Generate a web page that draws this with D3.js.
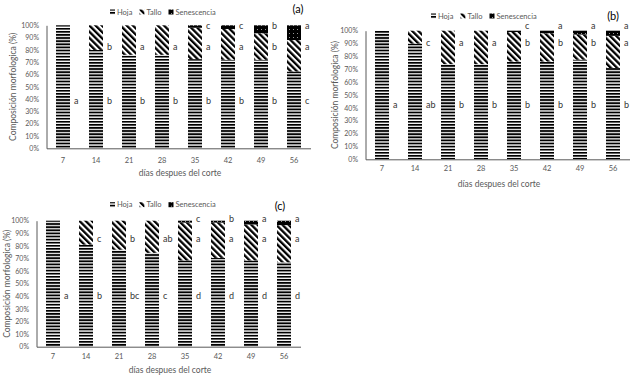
<!DOCTYPE html>
<html>
<head>
<meta charset="utf-8">
<script src="https://cdn.jsdelivr.net/npm/d3@7"></script>
<style>
body { margin: 0; background: #fff; }
svg { display: block; font-family: Lato, "Liberation Sans", sans-serif; }
</style>
</head>
<body>
<svg id="chart" width="634" height="375"></svg>
<script>
const dias = ["7", "14", "21", "28", "35", "42", "49", "56"];
const ticksY = [0, 0.1, 0.2, 0.3, 0.4, 0.5, 0.6, 0.7, 0.8, 0.9, 1];
const series = ["Hoja", "Tallo", "Senescencia"];

// panel (a)
const hojaA = [100, 80, 76, 76, 72.5, 72, 72, 62.5];
const talloA = [0, 20, 24, 24, 25.5, 25, 21.5, 25.5];
const senA = [0, 0, 0, 0, 2, 3, 6.5, 12];
const letrasHojaA = ["a", "b", "b", "b", "b", "b", "b", "c"];
const letrasTalloA = ["", "b", "a", "a", "a", "a", "b", "a"];
const letrasSenA = ["", "", "", "", "c", "c", "b", "a"];

// panel (b)
const hojaB = [100, 90, 74, 74, 76, 76, 77.5, 71];
const talloB = [0, 10, 26, 26, 23, 22, 19.5, 25];
const senB = [0, 0, 0, 0, 1, 2, 3, 4];
const letrasHojaB = ["a", "ab", "b", "b", "b", "b", "b", "b"];
const letrasTalloB = ["", "c", "a", "a", "b", "b", "b", "a"];
const letrasSenB = ["", "", "", "", "c", "a", "a", "a"];

// panel (c)
const hojaC = [100, 81, 77, 74.5, 68.5, 70.5, 68.5, 67];
const talloC = [0, 19, 23, 25.5, 30, 28, 28.5, 29.5];
const senC = [0, 0, 0, 0, 1.5, 1.5, 3, 3.5];
const letrasHojaC = ["a", "b", "bc", "c", "d", "d", "d", "d"];
const letrasTalloC = ["", "c", "b", "ab", "a", "a", "a", "a"];
const letrasSenC = ["", "", "", "", "c", "b", "a", "a"];

// layout of each panel (pixels)
const panels = [
    { id: "(a)", hoja: hojaA, tallo: talloA, sen: senA, letras: [letrasHojaA, letrasTalloA, letrasSenA],
      left: 46.5, top: 25.3, width: 264, height: 123, labelLevels: [0.386, 0.826, 1.0],
      xLabelY: 160, xTitleY: 173, yTitleX: 13, legendX: 110, legendY: 12, tagX: 298, tagY: 8 },
    { id: "(b)", hoja: hojaB, tallo: talloB, sen: senB, letras: [letrasHojaB, letrasTalloB, letrasSenB],
      left: 365.5, top: 30.7, width: 264, height: 128.6, labelLevels: [0.43, 0.91, 1.04],
      xLabelY: 168.3, xTitleY: 183.5, yTitleX: 335, legendX: 431, legendY: 16, tagX: 613, tagY: 15 },
    { id: "(c)", hoja: hojaC, tallo: talloC, sen: senC, letras: [letrasHojaC, letrasTalloC, letrasSenC],
      left: 36.5, top: 220.7, width: 264, height: 126, labelLevels: [0.41, 0.86, 1.02],
      xLabelY: 356.7, xTitleY: 370, yTitleX: 7, legendX: 110, legendY: 204.7, tagX: 280, tagY: 205 }
];

const svg = d3.select("#chart");
const defs = svg.append("defs");

// Hoja: horizontal stripes
const pHoja = defs.append("pattern").attr("id", "pat-hoja")
    .attr("patternUnits", "userSpaceOnUse").attr("width", 4).attr("height", 3.1);
pHoja.append("rect").attr("width", 4).attr("height", 3.1).attr("fill", "#fff");
pHoja.append("rect").attr("width", 4).attr("height", 1.8).attr("fill", "#000");

// Tallo: wide downward diagonal
const pTallo = defs.append("pattern").attr("id", "pat-tallo")
    .attr("patternUnits", "userSpaceOnUse").attr("width", 4.4).attr("height", 4.4)
    .attr("patternTransform", "rotate(-45)");
pTallo.append("rect").attr("width", 4.4).attr("height", 4.4).attr("fill", "#fff");
pTallo.append("rect").attr("width", 2.3).attr("height", 4.4).attr("fill", "#000");

// Senescencia: dark with white dots
const pSen = defs.append("pattern").attr("id", "pat-sen")
    .attr("patternUnits", "userSpaceOnUse").attr("width", 4).attr("height", 4);
pSen.append("rect").attr("width", 4).attr("height", 4).attr("fill", "#000");
pSen.append("rect").attr("x", 1).attr("y", 1).attr("width", 0.9).attr("height", 0.9).attr("fill", "#bbb");

const fills = { Hoja: "url(#pat-hoja)", Tallo: "url(#pat-tallo)", Senescencia: "url(#pat-sen)" };
const textGray = "#595959";

panels.forEach(p => {
    const rows = dias.map((d, i) => ({ dia: d, Hoja: p.hoja[i], Tallo: p.tallo[i], Senescencia: p.sen[i] }));
    const stacked = d3.stack().keys(series)(rows);

    const x = d3.scaleBand().domain(dias).range([p.left, p.left + p.width]).paddingInner(0.576).paddingOuter(0.288);
    const y = d3.scaleLinear().domain([0, 100]).range([p.top + p.height, p.top]);

    const g = svg.append("g");

    // bars
    g.selectAll("g.layer")
        .data(stacked)
        .join("g").attr("class", "layer")
        .attr("fill", d => fills[d.key])
        .selectAll("rect")
        .data(d => d)
        .join("rect")
        .attr("x", d => x(d.data.dia))
        .attr("y", d => y(d[1]))
        .attr("width", x.bandwidth())
        .attr("height", d => y(d[0]) - y(d[1]));

    // axes
    const yAxis = g.append("g")
        .attr("transform", `translate(${p.left},0)`)
        .call(d3.axisLeft(y.copy().domain([0, 1])).tickValues(ticksY).tickFormat(d3.format(".0%")).tickSize(0).tickPadding(7.5));
    yAxis.select(".domain").attr("stroke", "#595959");
    yAxis.selectAll("text").attr("fill", textGray).style("font-size", "7px").style("font-family", "Lato, 'Liberation Sans', sans-serif");

    const xAxis = g.append("g")
        .attr("transform", `translate(0,${p.top + p.height})`)
        .call(d3.axisBottom(x).tickSize(0).tickSizeOuter(0).tickPadding(0));
    xAxis.select(".domain").attr("stroke", "#595959");
    xAxis.selectAll("text").attr("fill", textGray).attr("y", null).attr("dy", null)
        .attr("transform", `translate(0,${p.xLabelY - (p.top + p.height)})`)
        .attr("dominant-baseline", "central")
        .style("font-size", "7.5px").style("font-family", "Lato, 'Liberation Sans', sans-serif");

    // axis titles
    g.append("text")
        .attr("x", p.left + p.width / 2 + 1.5)
        .attr("y", p.xTitleY)
        .attr("text-anchor", "middle").attr("dominant-baseline", "central")
        .attr("fill", textGray).style("font-size", "8.5px")
        .text("días despues del corte");

    g.append("text")
        .attr("transform", `translate(${p.yTitleX},${p.top + p.height / 2}) rotate(-90)`)
        .attr("text-anchor", "middle").attr("dominant-baseline", "central")
        .attr("fill", textGray).style("font-size", "8.5px")
        .text("Composición morfologica (%)");

    // significance letters
    series.forEach((s, k) => {
        g.selectAll(null)
            .data(dias.map((d, i) => ({ dia: d, t: p.letras[k][i] })).filter(d => d.t))
            .join("text")
            .attr("x", d => x(d.dia) + x.bandwidth() + 4)
            .attr("y", y(p.labelLevels[k] * 100))
            .attr("dominant-baseline", "central")
            .attr("fill", "#333").style("font-size", "9px")
            .text(d => d.t);
    });

    // legend
    const leg = g.append("g").attr("transform", `translate(${p.legendX},${p.legendY})`);
    let lx = 0;
    series.forEach(s => {
        leg.append("rect").attr("x", lx).attr("y", -2.5).attr("width", 5).attr("height", 5).attr("fill", fills[s]);
        const t = leg.append("text").attr("x", lx + 7).attr("y", 0)
            .attr("dominant-baseline", "central")
            .attr("fill", textGray).style("font-size", "7.5px")
            .text(s);
        lx += 7 + t.node().getComputedTextLength() + 7;
    });

    // panel tag
    g.append("text")
        .attr("x", p.tagX).attr("y", p.tagY)
        .attr("text-anchor", "middle").attr("dominant-baseline", "central")
        .attr("fill", "#000").style("font-size", "11px")
        .text(p.id);
});
</script>
</body>
</html>
